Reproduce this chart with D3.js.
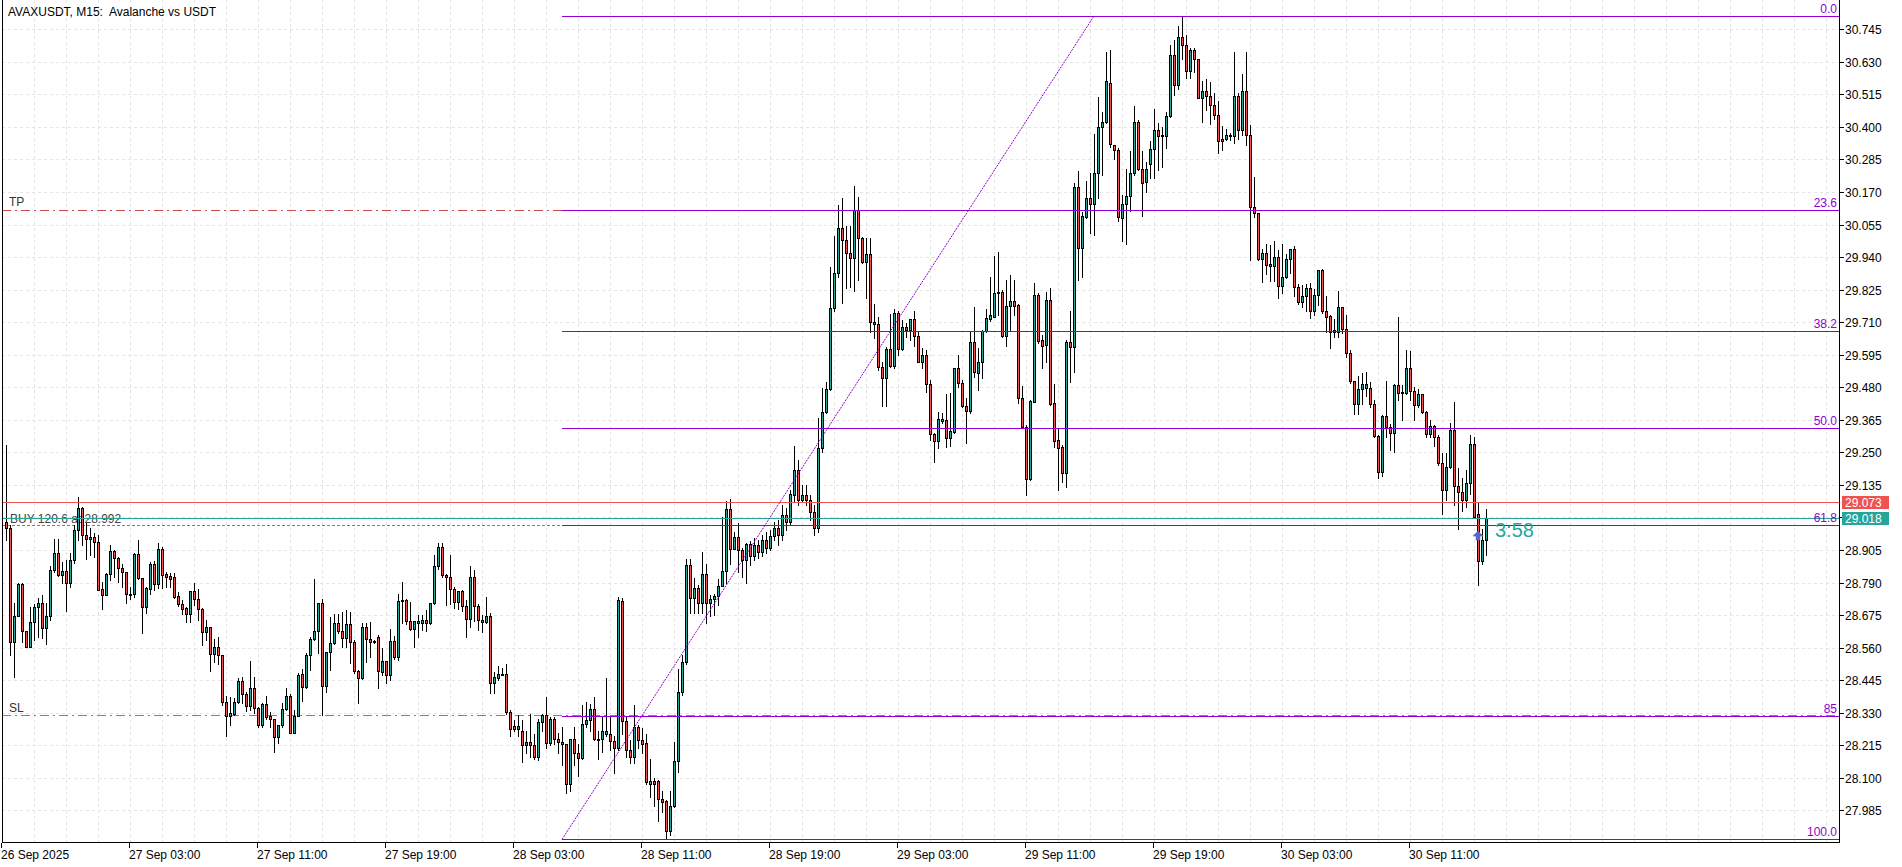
<!DOCTYPE html>
<html><head><meta charset="utf-8">
<script src="https://cdn.jsdelivr.net/npm/d3@7"></script>
<style>
body{margin:0;background:#fff}
svg{display:block}
text{font-family:"Liberation Sans",Arial,sans-serif;font-size:12px;white-space:pre}
</style>
</head><body>
<svg id="c" width="1902" height="867"></svg>
<script>
// ---------- DATA (AVAXUSDT M15, bar 0 = 26 Sep 2025 19:15) ----------
const opens = [
29.004,28.983,28.580,28.672,28.785,28.619,28.562,28.650,28.703,28.718,
28.629,28.672,28.834,28.894,28.816,28.830,28.788,28.869,28.976,29.053,
28.958,28.944,28.951,28.933,28.767,28.746,28.820,28.901,28.876,28.841,
28.827,28.749,28.749,28.891,28.806,28.703,28.767,28.855,28.785,28.908,
28.820,28.813,28.809,28.742,28.714,28.700,28.679,28.760,28.732,28.696,
28.615,28.633,28.537,28.562,28.534,28.368,28.318,28.325,28.368,28.442,
28.396,28.354,28.417,28.347,28.286,28.361,28.318,28.308,28.244,28.286,
28.343,28.389,28.258,28.318,28.466,28.420,28.534,28.590,28.619,28.718,
28.424,28.544,28.576,28.647,28.619,28.594,28.643,28.580,28.477,28.452,
28.633,28.590,28.583,28.597,28.474,28.512,28.463,28.583,28.527,28.725,
28.728,28.654,28.626,28.647,28.647,28.657,28.647,28.718,28.848,28.915,
28.816,28.809,28.767,28.721,28.760,28.707,28.661,28.809,28.707,28.657,
28.650,28.672,28.435,28.452,28.466,28.466,28.332,28.283,28.272,28.265,
28.216,28.226,28.216,28.173,28.297,28.322,28.223,28.308,28.237,28.226,
28.219,28.078,28.237,28.187,28.170,28.290,28.304,28.343,28.237,28.237,
28.255,28.255,28.230,28.205,28.725,28.301,28.198,28.173,28.280,28.233,
28.223,28.078,28.089,28.089,28.025,28.018,27.912,28.000,28.159,28.403,
28.509,28.852,28.735,28.770,28.718,28.820,28.718,28.732,28.742,28.778,
28.831,29.050,28.908,28.951,28.905,28.869,28.926,28.884,28.922,28.898,
28.940,28.912,28.954,28.983,28.958,29.029,29.004,29.099,29.188,29.082,
29.099,29.082,29.039,28.983,29.265,29.392,29.474,29.760,29.884,30.043,
30.000,29.954,29.937,30.106,30.007,29.923,29.951,29.711,29.703,29.552,
29.513,29.615,29.555,29.742,29.615,29.693,29.682,29.721,29.661,29.569,
29.594,29.491,29.315,29.290,29.361,29.364,29.301,29.322,29.548,29.495,
29.414,29.396,29.640,29.530,29.569,29.679,29.721,29.728,29.813,29.817,
29.661,29.767,29.785,29.771,29.442,29.339,29.156,29.428,29.806,29.647,
29.629,29.788,29.424,29.294,29.269,29.177,29.640,29.622,30.188,29.972,
30.082,30.149,30.128,30.237,30.400,30.417,30.555,30.336,30.318,30.078,
30.128,30.156,30.237,30.417,30.251,30.205,30.269,30.322,30.389,30.368,
30.368,30.439,30.654,30.548,30.718,30.690,30.598,30.672,30.640,30.502,
30.527,30.509,30.477,30.442,30.357,30.357,30.368,30.368,30.509,30.389,
30.527,30.371,30.117,30.096,29.933,29.954,29.916,29.908,29.940,29.838,
29.870,29.933,29.968,29.834,29.781,29.802,29.831,29.749,29.806,29.894,
29.749,29.732,29.675,29.675,29.764,29.686,29.601,29.502,29.421,29.474,
29.477,29.477,29.421,29.308,29.180,29.378,29.339,29.318,29.488,29.460,
29.460,29.548,29.467,29.417,29.456,29.392,29.315,29.343,29.304,29.212,
29.117,29.198,29.329,29.131,29.110,29.082,29.142,29.280,29.032,28.866,28.940];
const highs = [
29.276,28.993,28.718,28.788,28.788,28.619,28.703,28.714,28.735,28.746,
28.718,28.848,28.944,28.944,28.862,28.869,28.894,28.993,29.092,29.057,
29.000,28.983,28.965,28.958,28.792,28.823,28.922,28.905,28.880,28.855,
28.827,28.774,28.894,28.940,28.806,28.774,28.862,28.866,28.929,28.915,
28.827,28.823,28.823,28.756,28.728,28.703,28.760,28.788,28.767,28.700,
28.657,28.633,28.590,28.597,28.534,28.389,28.385,28.382,28.452,28.456,
28.403,28.513,28.456,28.350,28.364,28.389,28.332,28.308,28.286,28.364,
28.417,28.396,28.340,28.470,28.484,28.541,28.597,28.802,28.718,28.732,
28.544,28.668,28.679,28.679,28.686,28.693,28.686,28.587,28.480,28.647,
28.647,28.650,28.587,28.604,28.558,28.512,28.626,28.601,28.749,28.792,
28.732,28.721,28.654,28.675,28.675,28.693,28.718,28.887,28.929,28.929,
28.820,28.887,28.774,28.760,28.763,28.728,28.848,28.834,28.714,28.675,
28.739,28.682,28.474,28.495,28.488,28.502,28.340,28.304,28.322,28.304,
28.265,28.325,28.255,28.308,28.325,28.385,28.315,28.315,28.258,28.280,
28.219,28.237,28.280,28.219,28.357,28.368,28.361,28.385,28.265,28.315,
28.452,28.315,28.247,28.739,28.735,28.315,28.233,28.357,28.286,28.276,
28.255,28.166,28.099,28.092,28.053,28.021,28.053,28.226,28.484,28.534,
28.873,28.873,28.806,28.781,28.898,28.855,28.746,28.749,28.802,29.021,
29.078,29.085,28.968,29.000,28.912,28.929,28.937,28.947,28.940,28.958,
28.968,28.976,29.004,29.011,29.064,29.053,29.117,29.272,29.223,29.135,
29.135,29.099,29.064,29.371,29.477,29.499,29.905,30.014,30.124,30.149,
30.050,30.050,30.191,30.152,30.011,30.007,30.007,29.774,29.728,29.569,
29.622,29.739,29.757,29.749,29.718,29.707,29.721,29.749,29.675,29.619,
29.612,29.506,29.318,29.392,29.389,29.456,29.460,29.548,29.594,29.506,
29.442,29.675,29.764,29.619,29.682,29.757,29.870,29.944,29.958,29.824,
29.859,29.877,29.859,29.774,29.484,29.347,29.435,29.848,29.813,29.665,
29.817,29.831,29.491,29.336,29.276,29.647,29.749,30.202,30.244,30.099,
30.209,30.237,30.375,30.506,30.453,30.665,30.672,30.336,30.325,30.159,
30.251,30.315,30.474,30.424,30.315,30.276,30.350,30.463,30.414,30.400,
30.453,30.689,30.707,30.757,30.792,30.725,30.679,30.679,30.640,30.562,
30.569,30.559,30.520,30.492,30.403,30.393,30.378,30.665,30.520,30.587,
30.665,30.407,30.223,30.096,29.968,29.986,29.983,29.997,29.965,29.986,
29.951,29.968,29.979,29.845,29.841,29.845,29.848,29.827,29.894,29.898,
29.802,29.735,29.721,29.820,29.764,29.735,29.612,29.502,29.520,29.530,
29.534,29.499,29.435,29.311,29.382,29.502,29.350,29.491,29.728,29.488,
29.612,29.608,29.481,29.474,29.456,29.396,29.364,29.347,29.311,29.248,
29.248,29.354,29.428,29.195,29.159,29.188,29.311,29.304,29.071,28.979,29.050];
const lows = [
28.940,28.534,28.456,28.672,28.580,28.562,28.562,28.587,28.597,28.594,
28.573,28.657,28.827,28.813,28.788,28.689,28.774,28.858,28.940,28.922,
28.873,28.887,28.880,28.763,28.696,28.746,28.799,28.809,28.792,28.774,
28.718,28.732,28.739,28.802,28.612,28.682,28.749,28.763,28.770,28.770,
28.774,28.774,28.735,28.707,28.679,28.650,28.650,28.710,28.657,28.569,
28.587,28.477,28.509,28.502,28.357,28.247,28.286,28.322,28.364,28.364,
28.336,28.340,28.329,28.280,28.280,28.308,28.280,28.191,28.223,28.280,
28.340,28.258,28.258,28.318,28.371,28.417,28.480,28.587,28.541,28.322,
28.403,28.480,28.573,28.612,28.562,28.562,28.505,28.470,28.364,28.449,
28.509,28.527,28.576,28.417,28.463,28.435,28.445,28.520,28.516,28.647,
28.643,28.622,28.562,28.597,28.622,28.619,28.643,28.714,28.837,28.809,
28.710,28.714,28.700,28.696,28.689,28.597,28.633,28.654,28.622,28.615,
28.647,28.400,28.400,28.445,28.463,28.325,28.247,28.265,28.247,28.156,
28.187,28.173,28.166,28.163,28.265,28.205,28.216,28.219,28.187,28.145,
28.046,28.053,28.145,28.106,28.166,28.280,28.265,28.233,28.166,28.191,
28.247,28.198,28.117,28.198,28.255,28.173,28.152,28.152,28.205,28.187,
28.078,28.032,28.000,27.947,27.979,27.887,27.898,27.997,28.120,28.392,
28.502,28.682,28.682,28.682,28.682,28.647,28.672,28.675,28.710,28.778,
28.788,28.855,28.908,28.827,28.809,28.788,28.852,28.869,28.876,28.884,
28.894,28.905,28.940,28.922,28.940,28.976,28.993,29.074,29.064,29.074,
29.064,29.011,28.958,28.968,29.251,29.389,29.470,29.749,29.870,29.778,
29.831,29.834,29.820,29.859,29.919,29.795,29.675,29.654,29.541,29.414,
29.414,29.552,29.548,29.594,29.612,29.657,29.647,29.626,29.569,29.548,
29.463,29.294,29.216,29.265,29.354,29.269,29.272,29.318,29.481,29.410,
29.283,29.389,29.516,29.470,29.513,29.675,29.714,29.728,29.735,29.657,
29.626,29.679,29.735,29.424,29.336,29.099,29.152,29.428,29.636,29.548,
29.569,29.417,29.269,29.117,29.145,29.127,29.499,29.534,29.859,29.870,
30.078,30.025,30.018,30.149,30.230,30.414,30.329,30.287,30.067,29.997,
29.986,30.103,30.230,30.248,30.085,30.170,30.219,30.219,30.248,30.258,
30.325,30.435,30.513,30.534,30.640,30.573,30.573,30.594,30.502,30.417,
30.460,30.410,30.428,30.308,30.318,30.354,30.354,30.343,30.357,30.371,
30.336,29.930,30.082,29.930,29.852,29.880,29.855,29.855,29.795,29.813,
29.866,29.884,29.802,29.774,29.764,29.749,29.725,29.735,29.771,29.742,
29.675,29.619,29.658,29.658,29.672,29.587,29.495,29.385,29.385,29.421,
29.449,29.410,29.304,29.159,29.166,29.304,29.258,29.251,29.435,29.364,
29.456,29.435,29.364,29.410,29.389,29.304,29.304,29.272,29.205,29.032,
29.082,29.195,29.064,28.979,29.043,29.057,29.103,29.018,28.781,28.855,28.887];
const closes = [
28.983,28.580,28.672,28.785,28.619,28.562,28.650,28.703,28.718,28.629,
28.672,28.834,28.894,28.816,28.830,28.788,28.869,28.976,29.053,28.958,
28.944,28.951,28.933,28.763,28.746,28.820,28.901,28.876,28.841,28.827,
28.749,28.746,28.891,28.806,28.703,28.770,28.855,28.785,28.908,28.816,
28.809,28.802,28.739,28.714,28.696,28.679,28.760,28.732,28.696,28.615,
28.633,28.537,28.562,28.534,28.368,28.318,28.329,28.368,28.442,28.396,
28.354,28.417,28.347,28.286,28.361,28.315,28.308,28.244,28.286,28.343,
28.389,28.258,28.318,28.463,28.420,28.534,28.590,28.619,28.718,28.424,
28.544,28.576,28.647,28.619,28.594,28.643,28.580,28.477,28.452,28.633,
28.590,28.580,28.580,28.477,28.512,28.463,28.583,28.527,28.725,28.728,
28.654,28.626,28.654,28.654,28.657,28.647,28.718,28.848,28.915,28.816,
28.809,28.767,28.721,28.760,28.707,28.661,28.809,28.707,28.657,28.650,
28.672,28.435,28.456,28.466,28.463,28.332,28.272,28.272,28.283,28.216,
28.226,28.216,28.173,28.297,28.322,28.223,28.308,28.237,28.226,28.219,
28.078,28.237,28.187,28.170,28.290,28.304,28.343,28.237,28.233,28.265,
28.265,28.230,28.205,28.728,28.301,28.198,28.173,28.280,28.233,28.219,
28.085,28.089,28.078,28.025,28.014,27.912,28.000,28.159,28.403,28.509,
28.852,28.735,28.770,28.718,28.820,28.718,28.732,28.742,28.778,28.831,
29.050,28.908,28.951,28.905,28.869,28.926,28.884,28.922,28.898,28.940,
28.912,28.954,28.983,28.958,29.029,29.004,29.103,29.188,29.082,29.099,
29.082,29.039,28.983,29.265,29.392,29.474,29.760,29.884,30.043,30.000,
29.954,29.937,30.106,30.007,29.923,29.951,29.711,29.703,29.552,29.513,
29.615,29.555,29.742,29.615,29.693,29.682,29.721,29.661,29.569,29.594,
29.491,29.315,29.290,29.368,29.368,29.301,29.325,29.548,29.495,29.414,
29.396,29.640,29.534,29.569,29.679,29.725,29.735,29.813,29.817,29.661,
29.767,29.785,29.767,29.442,29.339,29.156,29.431,29.806,29.643,29.626,
29.788,29.421,29.290,29.265,29.177,29.640,29.622,30.188,29.972,30.085,
30.149,30.128,30.237,30.400,30.417,30.562,30.340,30.318,30.082,30.128,
30.156,30.237,30.417,30.251,30.202,30.251,30.322,30.389,30.368,30.371,
30.439,30.654,30.548,30.718,30.690,30.598,30.672,30.640,30.502,30.527,
30.509,30.477,30.442,30.350,30.350,30.371,30.371,30.509,30.389,30.527,
30.371,30.117,30.096,29.933,29.954,29.912,29.908,29.940,29.838,29.870,
29.933,29.968,29.834,29.781,29.802,29.831,29.749,29.806,29.894,29.749,
29.728,29.675,29.682,29.764,29.686,29.601,29.502,29.421,29.474,29.491,
29.491,29.421,29.308,29.180,29.378,29.339,29.318,29.488,29.460,29.463,
29.548,29.467,29.417,29.456,29.392,29.315,29.343,29.304,29.212,29.117,
29.198,29.329,29.131,29.110,29.082,29.142,29.280,29.021,28.866,28.940,29.018];

const priceTicks = [30.745,30.630,30.515,30.400,30.285,30.170,30.055,29.940,29.825,29.710,
  29.595,29.480,29.365,29.250,29.135,29.020,28.905,28.790,28.675,28.560,28.445,28.330,28.215,28.100,27.985];
const timeTickBars = [-1,31,63,95,127,159,191,223,255,287,319,351];
const timeTickLabels = ["26 Sep 2025","27 Sep 03:00","27 Sep 11:00","27 Sep 19:00","28 Sep 03:00",
  "28 Sep 11:00","28 Sep 19:00","29 Sep 03:00","29 Sep 11:00","29 Sep 19:00","30 Sep 03:00","30 Sep 11:00"];
const fibLevels = [0, 23.6, 38.2, 50, 61.8, 85, 100];
const fibLabels = ["0.0","23.6","38.2","50.0","61.8","85","100.0"];
const fibAnchorBars = [139, 272];
const fibAnchorPrices = [27.882, 30.792];   // 100% , 0%
const askPrice = 29.073, bidPrice = 29.018;
const positionPrice = 28.992, positionText = "BUY 120.6 at 28.992";
const tpPrice = 30.105, slPrice = 28.323;
const title = "AVAXUSDT, M15:  Avalanche vs USDT";
const countdown = "3:58";

// ---------- LAYOUT ----------
const W = 1902, H = 867;
const plotL = 2, plotR = 1839, plotB = 842.7;
const x = d3.scaleLinear().domain([0, 370]).range([6, 1486]);
const y = d3.scaleLinear().domain([27.8705, 30.8485]).range([plotB, 0]);
const px = v => Math.round(v) + 0.5;
const BULL = "#26a69a", BEAR = "#ef5350", FIB = "#9400d3";

const svg = d3.select("#c");
svg.append("rect").attr("width", W).attr("height", H).attr("fill", "#fff");

// grid
const grid = svg.append("g").attr("stroke", "#e4e4e4").attr("stroke-dasharray", "3,3").attr("shape-rendering","crispEdges");
grid.selectAll("line.h").data(priceTicks).join("line")
  .attr("x1", plotL).attr("x2", plotR).attr("y1", d => px(y(d))).attr("y2", d => px(y(d)));
const vBars = d3.range(7, 460, 8);
grid.selectAll("line.v").data(vBars).join("line")
  .attr("x1", d => px(x(d))).attr("x2", d => px(x(d))).attr("y1", 0).attr("y2", plotB);

// trade levels (background)
const lev = svg.append("g").attr("shape-rendering","crispEdges");
lev.append("line").attr("x1", plotL).attr("x2", plotR).attr("y1", px(y(tpPrice))).attr("y2", px(y(tpPrice)))
  .attr("stroke", "#c8504a").attr("stroke-dasharray", "9,4,2,4");
lev.append("line").attr("x1", plotL).attr("x2", plotR).attr("y1", px(y(slPrice))).attr("y2", px(y(slPrice)))
  .attr("stroke", BEAR).attr("stroke-dasharray", "9,4,2,4");
lev.append("line").attr("x1", plotL).attr("x2", plotR).attr("y1", px(y(positionPrice))).attr("y2", px(y(positionPrice)))
  .attr("stroke", BULL).attr("stroke-dasharray", "3,2");
svg.append("text").attr("x", 9).attr("y", Math.round(y(tpPrice)) - 4).attr("fill", "#333").text("TP");
svg.append("text").attr("x", 9).attr("y", Math.round(y(slPrice)) - 3).attr("fill", "#333").text("SL");
svg.append("text").attr("x", 10).attr("y", Math.round(y(bidPrice)) + 5).attr("fill", "#444").text(positionText);

// candles
const cg = svg.append("g").attr("shape-rendering", "crispEdges");
const idx = d3.range(opens.length);
idx.forEach(i => {
  const cx = Math.round(x(i));
  const yh = Math.round(y(highs[i])), yl = Math.round(y(lows[i]));
  const yo = Math.round(y(opens[i])), yc = Math.round(y(closes[i]));
  const top = Math.min(yo, yc), bot = Math.max(yo, yc);
  const bull = closes[i] >= opens[i];
  cg.append("rect").attr("x", cx).attr("y", yh).attr("width", 1).attr("height", yl - yh + 1).attr("fill", "#000");
  cg.append("rect").attr("x", cx - 1).attr("y", top).attr("width", 3).attr("height", bot - top + 1).attr("fill", "#000");
  if (bot - top > 1) {
    cg.append("rect").attr("x", cx).attr("y", top + 1).attr("width", 1).attr("height", bot - top - 1)
      .attr("fill", bull ? BULL : BEAR);
  }
});

// ask / bid lines
svg.append("line").attr("x1", plotL).attr("x2", plotR).attr("y1", px(y(askPrice))).attr("y2", px(y(askPrice)))
  .attr("stroke", BEAR).attr("shape-rendering","crispEdges");
svg.append("line").attr("x1", plotL).attr("x2", plotR).attr("y1", px(y(bidPrice))).attr("y2", px(y(bidPrice)))
  .attr("stroke", BULL).attr("shape-rendering","crispEdges");

// fibonacci
const fg = svg.append("g");
const fibPrice = L => fibAnchorPrices[1] - (fibAnchorPrices[1] - fibAnchorPrices[0]) * L / 100;
const fx0 = x(fibAnchorBars[0]);
fg.selectAll("line.f").data(fibLevels).join("line")
  .attr("x1", Math.round(fx0)).attr("x2", plotR)
  .attr("y1", d => px(y(fibPrice(d)))).attr("y2", d => px(y(fibPrice(d))))
  .attr("stroke", FIB).attr("shape-rendering", "crispEdges");
fg.selectAll("text").data(fibLevels).join("text")
  .attr("x", plotR - 2).attr("y", d => Math.round(y(fibPrice(d))) - 3)
  .attr("text-anchor", "end").attr("fill", FIB).text((d, i) => fibLabels[i]);
fg.append("line")
  .attr("x1", x(fibAnchorBars[0])).attr("y1", y(fibAnchorPrices[0]))
  .attr("x2", x(fibAnchorBars[1])).attr("y2", y(fibAnchorPrices[1]))
  .attr("stroke", FIB).attr("stroke-width", 1).attr("stroke-dasharray", "2,1");

// countdown + arrow
const lastX = x(opens.length - 1);
svg.append("text").attr("x", lastX + 9).attr("y", Math.round(y(bidPrice)) + 19)
  .attr("fill", BULL).style("font-size", "20px").text(countdown);
const ax = Math.round(x(368)), ay = Math.round(y(28.955));
svg.append("path").attr("d", `M${ax},${ay-5} L${ax+5},${ay} L${ax+2},${ay} L${ax+2},${ay+4} L${ax-2},${ay+4} L${ax-2},${ay} L${ax-5},${ay} Z`)
  .attr("fill", "#6a5acd").attr("stroke", "#2a8fb0").attr("stroke-width", 0.6);

// frame / axes
const ax1 = svg.append("g").attr("shape-rendering", "crispEdges").attr("stroke", "#000");
ax1.append("line").attr("x1", 2.5).attr("x2", 2.5).attr("y1", 0).attr("y2", 843);
ax1.append("line").attr("x1", plotR + 0.5).attr("x2", plotR + 0.5).attr("y1", 0).attr("y2", 843);
ax1.append("line").attr("x1", 2).attr("x2", plotR + 1).attr("y1", 842.5).attr("y2", 842.5);

// y axis ticks & labels
const yt = svg.append("g");
yt.selectAll("line").data(priceTicks).join("line")
  .attr("x1", plotR + 1).attr("x2", plotR + 5).attr("y1", d => px(y(d))).attr("y2", d => px(y(d)))
  .attr("stroke", "#000").attr("shape-rendering","crispEdges");
yt.selectAll("text").data(priceTicks).join("text")
  .attr("x", plotR + 6).attr("y", d => Math.round(y(d)) + 4.5).attr("fill", "#000").text(d => d.toFixed(3));

// price boxes
[[askPrice, BEAR], [bidPrice, BULL]].forEach(([p, c]) => {
  const yy = Math.round(y(p));
  svg.append("rect").attr("x", plotR + 3).attr("y", yy - 6).attr("width", 47).attr("height", 13).attr("fill", c);
  svg.append("text").attr("x", plotR + 6).attr("y", yy + 4.5).attr("fill", "#fff").text(p.toFixed(3));
});

// x axis ticks & labels
const xt = svg.append("g");
xt.selectAll("line").data(timeTickBars).join("line")
  .attr("x1", d => px(x(d)) - 1).attr("x2", d => px(x(d)) - 1).attr("y1", 843).attr("y2", 848)
  .attr("stroke", "#000").attr("shape-rendering","crispEdges");
xt.selectAll("text").data(timeTickBars).join("text")
  .attr("x", d => Math.round(x(d)) - 1).attr("y", 859).attr("fill", "#000").text((d, i) => timeTickLabels[i]);

// title
svg.append("text").attr("x", 8).attr("y", 16).attr("fill", "#000").attr("xml:space", "preserve").text(title);
</script>
</body></html>
